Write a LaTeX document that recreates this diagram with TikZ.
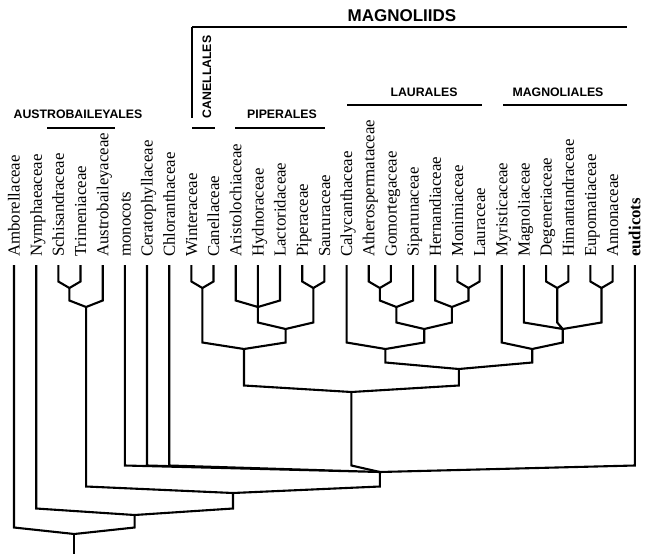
\documentclass[tikz,border=0pt]{standalone}
\usepackage{fontspec}
\setmainfont{Liberation Serif}
\newfontfamily\hdsans{Liberation Sans}
\usetikzlibrary{calc}

\begin{document}
\begin{tikzpicture}[x=1pt,y=-1pt,
  edge/.style={line width=2.1pt},
  fork/.style={to path={-- ($(\tikztostart |- \tikztotarget)+(0,-6.5)$) -- (\tikztotarget)}},
  taxon/.style={rotate=90,anchor=base west,inner sep=0pt,font=\fontsize{16.8}{18}\selectfont},
  order/.style={font=\hdsans\bfseries\fontsize{12.3}{14}\selectfont,inner sep=0pt},
  bar/.style={line width=1.3pt}]
 \useasboundingbox (0,0) rectangle (645,554);

 \coordinate (amb) at (14,265);
 \coordinate (nym) at (36.2,265);
 \coordinate (sch) at (58.3,265);
 \coordinate (tri) at (80.5,265);
 \coordinate (aus) at (102.7,265);
 \coordinate (mon) at (124.9,265);
 \coordinate (cer) at (147,265);
 \coordinate (chl) at (169.2,265);
 \coordinate (win) at (191.4,265);
 \coordinate (can) at (213.5,265);
 \coordinate (ari) at (235.7,265);
 \coordinate (hyd) at (257.9,265);
 \coordinate (lac) at (280,265);
 \coordinate (pip) at (302.2,265);
 \coordinate (sau) at (324.4,265);
 \coordinate (cal) at (346.6,265);
 \coordinate (ath) at (368.7,265);
 \coordinate (gom) at (390.9,265);
 \coordinate (sip) at (413.1,265);
 \coordinate (her) at (435.2,265);
 \coordinate (mnm) at (457.4,265);
 \coordinate (lau) at (479.6,265);
 \coordinate (myr) at (501.7,265);
 \coordinate (mag) at (523.9,265);
 \coordinate (deg) at (546.1,265);
 \coordinate (him) at (568.3,265);
 \coordinate (eup) at (590.4,265);
 \coordinate (ann) at (612.6,265);
 \coordinate (eud) at (634.8,265);

 \node[taxon] (amb-lab) at (19.6,257) {Amborellaceae};
 \node[taxon] (nym-lab) at (41.8,257) {Nymphaeaceae};
 \node[taxon] (sch-lab) at (63.9,257) {Schisandraceae};
 \node[taxon] (tri-lab) at (86.1,257) {Trimeniaceae};
 \node[taxon] (aus-lab) at (108.3,257) {Austrobaileyaceae};
 \node[taxon] (mon-lab) at (130.5,257) {monocots};
 \node[taxon] (cer-lab) at (152.6,257) {Ceratophyllaceae};
 \node[taxon] (chl-lab) at (174.8,257) {Chloranthaceae};
 \node[taxon] (win-lab) at (197,257) {Winteraceae};
 \node[taxon] (can-lab) at (219.1,257) {Canellaceae};
 \node[taxon] (ari-lab) at (241.3,257) {Aristolochiaceae};
 \node[taxon] (hyd-lab) at (263.5,257) {Hydnoraceae};
 \node[taxon] (lac-lab) at (285.6,257) {Lactoridaceae};
 \node[taxon] (pip-lab) at (307.8,257) {Piperaceae};
 \node[taxon] (sau-lab) at (330,257) {Saururaceae};
 \node[taxon] (cal-lab) at (352.2,257) {Calycanthaceae};
 \node[taxon] (ath-lab) at (374.3,257) {Atherospermataceae};
 \node[taxon] (gom-lab) at (396.5,257) {Gomortegaceae};
 \node[taxon] (sip-lab) at (418.7,257) {Siparunaceae};
 \node[taxon] (her-lab) at (440.8,257) {Hernandiaceae};
 \node[taxon] (mnm-lab) at (463,257) {Monimiaceae};
 \node[taxon] (lau-lab) at (485.2,257) {Lauraceae};
 \node[taxon] (myr-lab) at (507.3,257) {Myristicaceae};
 \node[taxon] (mag-lab) at (529.5,257) {Magnoliaceae};
 \node[taxon] (deg-lab) at (551.7,257) {Degeneriaceae};
 \node[taxon] (him-lab) at (573.9,257) {Himantandraceae};
 \node[taxon] (eup-lab) at (596,257) {Eupomatiaceae};
 \node[taxon] (ann-lab) at (618.2,257) {Annonaceae};
 \node[taxon] (eud-lab) at (640.4,257) {\bfseries eudicots};

 \coordinate (st) at (69.4,288);
 \coordinate (ausc) at (86.1,307);
 \coordinate (wc) at (202.4,288);
 \coordinate (ahl) at (257.9,307);
 \coordinate (ps) at (313.3,288);
 \coordinate (pipc) at (285.6,329);
 \coordinate (canpip) at (244,349);
 \coordinate (ag) at (379.8,288);
 \coordinate (ags) at (396.4,307);
 \coordinate (ml) at (468.5,288);
 \coordinate (hml) at (451.9,307);
 \coordinate (agshml) at (424.2,329);
 \coordinate (laurc) at (385.4,349);
 \coordinate (dh) at (557.2,288);
 \coordinate (ea) at (601.5,288);
 \coordinate (mdhea) at (562.7,329);
 \coordinate (magc) at (532.2,349);
 \coordinate (lm) at (458.8,369);
 \coordinate (mgn) at (351.4,392);
 \coordinate (mes) at (379.9,472);
 \coordinate (ausmes) at (233,493);
 \coordinate (nymc) at (134.6,515);
 \coordinate (root) at (74.3,534);
 \coordinate (base) at (74.3,554);

 \draw[edge] (sch) to[fork] (st) (tri) to[fork] (st);
 \draw[edge] (st) to[fork] (ausc) (aus) to[fork] (ausc);
 \draw[edge] (win) to[fork] (wc) (can) to[fork] (wc);
 \draw[edge] (ari) to[fork] (ahl) (hyd) to[fork] (ahl) (lac) to[fork] (ahl);
 \draw[edge] (pip) to[fork] (ps) (sau) to[fork] (ps);
 \draw[edge] (ahl) to[fork] (pipc) (ps) to[fork] (pipc);
 \draw[edge] (wc) to[fork] (canpip) (pipc) to[fork] (canpip);
 \draw[edge] (ath) to[fork] (ag) (gom) to[fork] (ag);
 \draw[edge] (ag) to[fork] (ags) (sip) to[fork] (ags);
 \draw[edge] (mnm) to[fork] (ml) (lau) to[fork] (ml);
 \draw[edge] (her) to[fork] (hml) (ml) to[fork] (hml);
 \draw[edge] (ags) to[fork] (agshml) (hml) to[fork] (agshml);
 \draw[edge] (cal) to[fork] (laurc) (agshml) to[fork] (laurc);
 \draw[edge] (deg) to[fork] (dh) (him) to[fork] (dh);
 \draw[edge] (eup) to[fork] (ea) (ann) to[fork] (ea);
 \draw[edge] (mag) to[fork] (mdhea) (dh) to[fork] (mdhea) (ea) to[fork] (mdhea);
 \draw[edge] (myr) to[fork] (magc) (mdhea) to[fork] (magc);
 \draw[edge] (laurc) to[fork] (lm) (magc) to[fork] (lm);
 \draw[edge] (canpip) to[fork] (mgn) (lm) to[fork] (mgn);
 \draw[edge] (mon) to[fork] (mes) (cer) to[fork] (mes) (chl) to[fork] (mes);
 \draw[edge] (mgn) to[fork] (mes) (eud) to[fork] (mes);
 \draw[edge] (ausc) to[fork] (ausmes) (mes) to[fork] (ausmes);
 \draw[edge] (nym) to[fork] (nymc) (ausmes) to[fork] (nymc);
 \draw[edge] (amb) to[fork] (root) (nymc) to[fork] (root);
 \draw[edge] (root) -- (base);

 \node[font=\hdsans\bfseries\fontsize{17}{19}\selectfont,inner sep=0pt] (magnoliids) at (402,16) {MAGNOLIIDS};
 \draw[bar] (192,27) -- (627,27);
 \node[order,rotate=90] (canellales) at (207,77) {CANELLALES};
 \draw[bar] (192,27) -- (192,118);
 \draw[bar] (192,128) -- (215,128);
 \node[order] (austrobaileyales) at (78,114) {AUSTROBAILEYALES};
 \draw[bar] (47,128) -- (115,128);
 \node[order] (piperales) at (282,114) {PIPERALES};
 \draw[bar] (235,128) -- (325,128);
 \node[order] (laurales) at (424,92) {LAURALES};
 \draw[bar] (347,105) -- (482,105);
 \node[order] (magnoliales) at (558,92) {MAGNOLIALES};
 \draw[bar] (503,105) -- (627,105);
\end{tikzpicture}
\end{document}
